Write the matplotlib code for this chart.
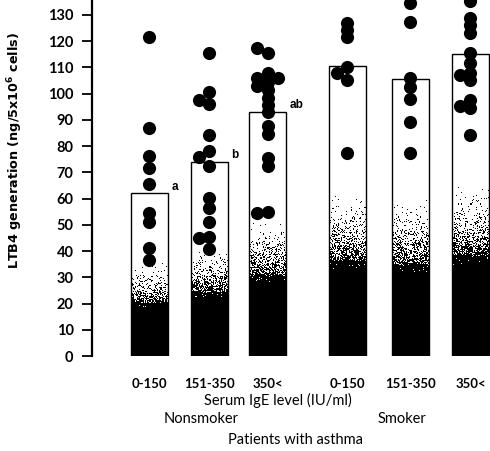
import numpy as np
import matplotlib
matplotlib.use('Agg')
import matplotlib.pyplot as plt

plt.rcParams['mathtext.default'] = 'regular'

# Dane: średnie (wysokość słupków) i pomiary indywidualne
groups = ['0-150', '151-350', '350<', '0-150', '151-350', '350<']
means = [62, 74, 93, 110.5, 105.5, 115.2]
letters = ['a', 'b', 'ab', '', '', '']

ns_low = [121.7, 86.8, 76.2, 71.6, 65.6, 54.6, 51.2, 41.1, 36.6]
ns_mid = [115.4, 100.8, 96.1, 97.6, 84.3, 78.3, 72.4, 76.0, 60.1, 56.3,
          51.2, 45.5, 40.7, 44.9]
ns_high = [115.6, 117.3, 107.9, 104.5, 101.5, 98.5, 95.5, 93.0, 106.0, 106.0,
           103.0, 87.5, 84.5, 75.5, 72.5, 55.0, 54.5]
sm_low = [126.8, 124.3, 121.5, 110.3, 105.2, 108.0, 77.5]
sm_mid = [134.5, 127.5, 105.9, 102.7, 97.9, 89.3, 77.5]
sm_high = [135.5, 128.7, 126.2, 123.0, 115.4, 111.6, 107.8, 107.1, 105.2,
           97.6, 94.4, 95.3, 84.3]
points = [ns_low, ns_mid, ns_high, sm_low, sm_mid, sm_high]

xpos = [0, 1, 1.97, 3.3, 4.35, 5.35]
width = 0.62
ymax = 135.7

fig = plt.figure(figsize=(4.9, 4.51), dpi=100)
ax = fig.add_axes([0.187, 0.2106, 0.813, 0.7894])
ax.set_xlim(-0.963, 5.675)
ax.set_ylim(0, ymax)

# piksele na jednostkę osi
ppu_y = 0.7894 * 451 / ymax
ppu_x = 0.813 * 490 / (5.675 + 0.963)

rng = np.random.default_rng(7)
for x, m in zip(xpos, means):
    ax.bar(x, m, width, color='white', edgecolor='none', zorder=1)
    # tekstura: czarny dół przechodzący w kropkowanie
    rows = int(m * ppu_y)
    cols = int(width * ppu_x)
    t = (np.arange(rows) + 0.5) / rows
    a, b = 0.30, 0.58
    p = np.clip((b - t) / (b - a), 0, 1) ** 2.2
    p[t < a + 0.03] = np.maximum(p[t < a + 0.03], 0.97)
    tex = (rng.random((rows, cols)) < p[:, None]).astype(float)
    ax.imshow(tex, cmap='gray_r', vmin=0, vmax=1, origin='lower',
              extent=[x - width / 2, x + width / 2, 0, m],
              interpolation='nearest', aspect='auto', zorder=2)
    ax.bar(x, m, width, fill=False, edgecolor='black', linewidth=1, zorder=3)

ax.set_aspect('auto')
ax.set_xlim(-0.963, 5.675)
ax.set_ylim(0, ymax)


def swarm(vals, step_px=10.5, min_px=6.5):
    # proste rozsuwanie nakładających się punktów na boki
    placed = []
    offs = []
    for v in vals:
        for k in [0, -1, 1, -2, 2]:
            ok = True
            for pv, pk in placed:
                if pk == k and abs(pv - v) * ppu_y < min_px:
                    ok = False
                    break
            if ok:
                break
        placed.append((v, k))
        offs.append(k * step_px / ppu_x)
    return np.array(offs)


for x, vals in zip(xpos, points):
    ox = swarm(vals)
    ax.scatter(x + ox, vals, s=90, color='black', zorder=4, clip_on=False,
               linewidths=0)

for x, m, lab in zip(xpos, means, letters):
    if lab:
        ax.text(x + width / 2 + 0.06, m + 2.5, lab, ha='left', va='center',
                fontsize=8.5, fontweight='bold', family='Liberation Sans')

for s in ['top', 'right', 'bottom']:
    ax.spines[s].set_visible(False)
ax.spines['left'].set_linewidth(1.6)
ax.set_yticks(range(0, 131, 10))
ax.tick_params(axis='y', direction='out', length=7, width=1.3, pad=6,
               labelsize=10.5)
for lbl in ax.get_yticklabels():
    lbl.set_family('Lato')
    lbl.set_fontweight('bold')
ax.set_xticks(xpos)
ax.set_xticklabels(groups, family='Lato', fontweight='bold', fontsize=9.5)
ax.tick_params(axis='x', length=0, pad=16)

ax.set_ylabel('LTB4 generation (ng/5x10$^6$ cells)', family='DejaVu Sans',
              fontweight='bold', fontsize=9.2)
ax.yaxis.set_label_coords(-0.168, 0.578)

fig.text(0.567, 0.113, 'Serum IgE level (IU/ml)', ha='center', va='center',
         family='Lato', fontsize=10.5)
fig.text(0.41, 0.071, 'Nonsmoker', ha='center', va='center',
         family='Lato', fontsize=10.5)
fig.text(0.82, 0.071, 'Smoker', ha='center', va='center',
         family='Lato', fontsize=10.5)
fig.text(0.604, 0.024, 'Patients with asthma', ha='center', va='center',
         family='Lato', fontsize=10.5)

plt.savefig('out.png', dpi=100)
